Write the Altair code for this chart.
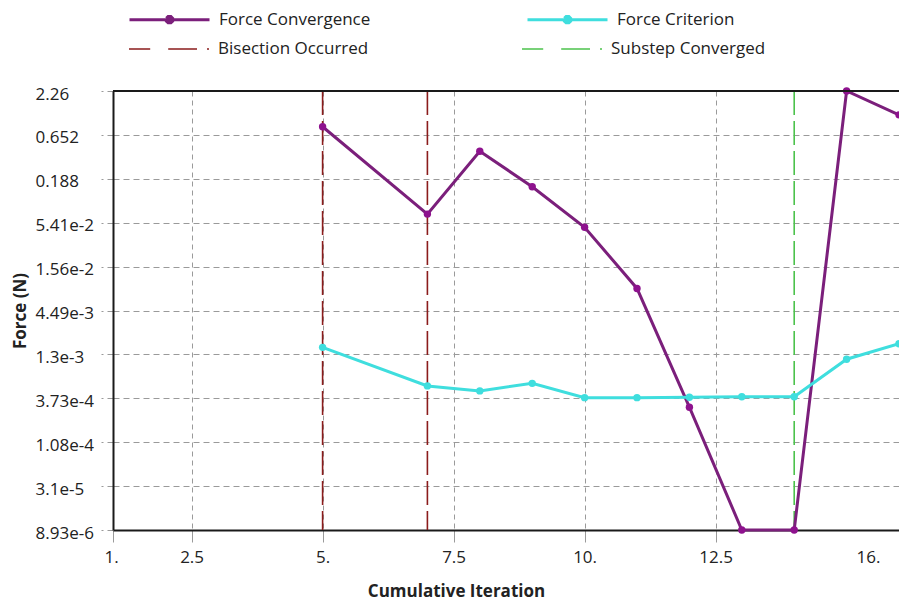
import altair as alt
import pandas as pd

# ---------------- data ----------------
iterations = [5, 7, 8, 9, 10, 11, 12, 13, 14, 15, 16]
force_convergence = [0.82, 0.069, 0.41, 0.15, 0.0475, 0.0084, 2.9e-4, 8.93e-6, 8.93e-6, 2.26, 1.15]
force_criterion = [1.58e-3, 5.3e-4, 4.6e-4, 5.7e-4, 3.8e-4, 3.8e-4, 3.85e-4, 3.9e-4, 3.9e-4, 1.13e-3, 1.75e-3]
series_names = ["Force Convergence", "Force Criterion"]
series_colors = ["#7b1f7b", "#3fdede"]
marker_colors = ["#8e128e", "#3fdede"]

event_iterations = [5, 7, 14]
event_types = ["Bisection Occurred", "Bisection Occurred", "Substep Converged"]
event_names = ["Bisection Occurred", "Substep Converged"]
event_colors = ["#8b1c1c", "#4cc24c"]

y_ticks = [8.93e-6, 3.1e-5, 1.08e-4, 3.73e-4, 1.3e-3, 4.49e-3, 1.56e-2, 5.41e-2, 0.188, 0.652, 2.26]
y_labels = ["8.93e-6", "3.1e-5", "1.08e-4", "3.73e-4", "1.3e-3", "4.49e-3", "1.56e-2", "5.41e-2", "0.188", "0.652", "2.26"]
x_ticks = [1, 2.5, 5, 7.5, 10, 12.5, 16]
x_labels = ["1.", "2.5", "5.", "7.5", "10.", "12.5", "16."]
x_domain = [1, 16]

FONT = "Open Sans"
GRID = "#9a9a9a"

# legend symbols (unit square paths)
LINE_DOT = ("M-1,0L1,0"
            "M-0.08,-0.035L-0.035,-0.08L0.035,-0.08L0.08,-0.035L0.08,0.035L0.035,0.08L-0.035,0.08L-0.08,0.035Z"
            "M-0.03,-0.03L0.03,-0.03L0.03,0.03L-0.03,0.03Z")
DASH_DOT = "M-1,0L-0.47,0M-0.02,0L0.7,0M0.95,0L1,0"


def label_expr(values, labels):
    expr = "datum.label"
    for v, l in reversed(list(zip(values, labels))):
        expr = f"abs(datum.value - {v!r}) < {abs(v) * 1e-3!r} ? '{l}' : ({expr})"
    return expr


line_df = pd.DataFrame({
    "iteration": iterations * 2,
    "force": force_convergence + force_criterion,
    "series": [series_names[0]] * len(iterations) + [series_names[1]] * len(iterations),
})
event_df = pd.DataFrame({"iteration": event_iterations, "event": event_types})
frame_df = pd.DataFrame({"top": [y_ticks[-1]]})

x_enc = alt.X(
    "iteration:Q",
    scale=alt.Scale(domain=x_domain, nice=False, zero=False),
    axis=alt.Axis(
        values=x_ticks,
        labelExpr=label_expr(x_ticks, x_labels),
        title="Cumulative Iteration",
        grid=True,
        gridColor=GRID,
        gridDash=[5, 4],
        gridWidth=1,
        tickColor=GRID,
        tickSize=12,
        tickWidth=1,
        domainColor="#1a1a1a",
        domainWidth=2,
        labelFont=FONT,
        labelFontSize=17,
        labelColor="#222222",
        labelPadding=7,
        labelOffset={"condition": [{"test": "datum.value == 1", "value": -9},
                                   {"test": "datum.value == 16", "value": -19}],
                     "value": 0},
        titleFont=FONT,
        titleFontSize=17,
        titleFontWeight="bold",
        titleColor="#222222",
        titleX=343,
        titleY=61,
        titleBaseline="middle",
    ),
)

y_enc = alt.Y(
    "force:Q",
    scale=alt.Scale(type="log", domain=[y_ticks[0], y_ticks[-1]], nice=False),
    axis=alt.Axis(
        values=y_ticks,
        labelExpr=label_expr(y_ticks, y_labels),
        title="Force (N)",
        grid=True,
        gridColor=GRID,
        gridDash=[6, 4],
        gridWidth=1,
        tickColor=GRID,
        tickDash=[6, 4],
        tickSize=12,
        tickWidth=1,
        domainColor="#1a1a1a",
        domainWidth=2,
        labelFont=FONT,
        labelFontSize=17,
        labelColor="#222222",
        labelAlign="left",
        labelPadding=66,
        labelOffset=3,
        titleFont=FONT,
        titleFontSize=17,
        titleFontWeight="bold",
        titleColor="#222222",
        titleX=-93,
        titleBaseline="middle",
    ),
)

rules = alt.Chart(event_df).mark_rule(strokeWidth=1.6, strokeDash=[24, 6]).encode(
    x=alt.X("iteration:Q"),
    color=alt.Color(
        "event:N",
        scale=alt.Scale(domain=event_names, range=event_colors),
        legend=alt.Legend(
            orient="none", legendX=15, legendY=-83, direction="horizontal", title=None,
            symbolType=DASH_DOT, symbolSize=6400, symbolStrokeWidth=1.5, symbolDash=[100, 0],
            labelFont=FONT, labelFontSize=17, labelColor="#222222", labelOffset=8,
            columnPadding=150, padding=0,
        ),
    ),
)

lines = alt.Chart(line_df).mark_line(strokeWidth=3).encode(
    x=x_enc,
    y=y_enc,
    color=alt.Color(
        "series:N",
        scale=alt.Scale(domain=series_names, range=series_colors),
        legend=alt.Legend(
            orient="none", legendX=15, legendY=-113, direction="horizontal", title=None,
            symbolType=LINE_DOT, symbolSize=6400, symbolStrokeWidth=3, symbolDash=[100, 0],
            labelFont=FONT, labelFontSize=17, labelColor="#222222", labelOffset=8,
            columnPadding=150, padding=0,
        ),
    ),
    detail="series:N",
)

points = alt.Chart(line_df).mark_point(filled=True, size=55, opacity=1).encode(
    x="iteration:Q",
    y="force:Q",
    color=alt.Color("series:N", scale=alt.Scale(domain=series_names, range=marker_colors), legend=None),
)

frame = alt.Chart(frame_df).mark_rule(color="#1a1a1a", strokeWidth=2).encode(y="top:Q")

chart = (
    alt.layer(rules, lines, points, frame)
    .resolve_scale(color="independent")
    .properties(
        width=786,
        height=439,
        autosize=alt.AutoSizeParams(type="none"),
        padding={"left": 113, "top": 91, "right": 0, "bottom": 78},
        background="white",
    )
    .configure_view(stroke=None)
)

chart.save("out.html", embed_options={"renderer": "svg", "actions": False})
